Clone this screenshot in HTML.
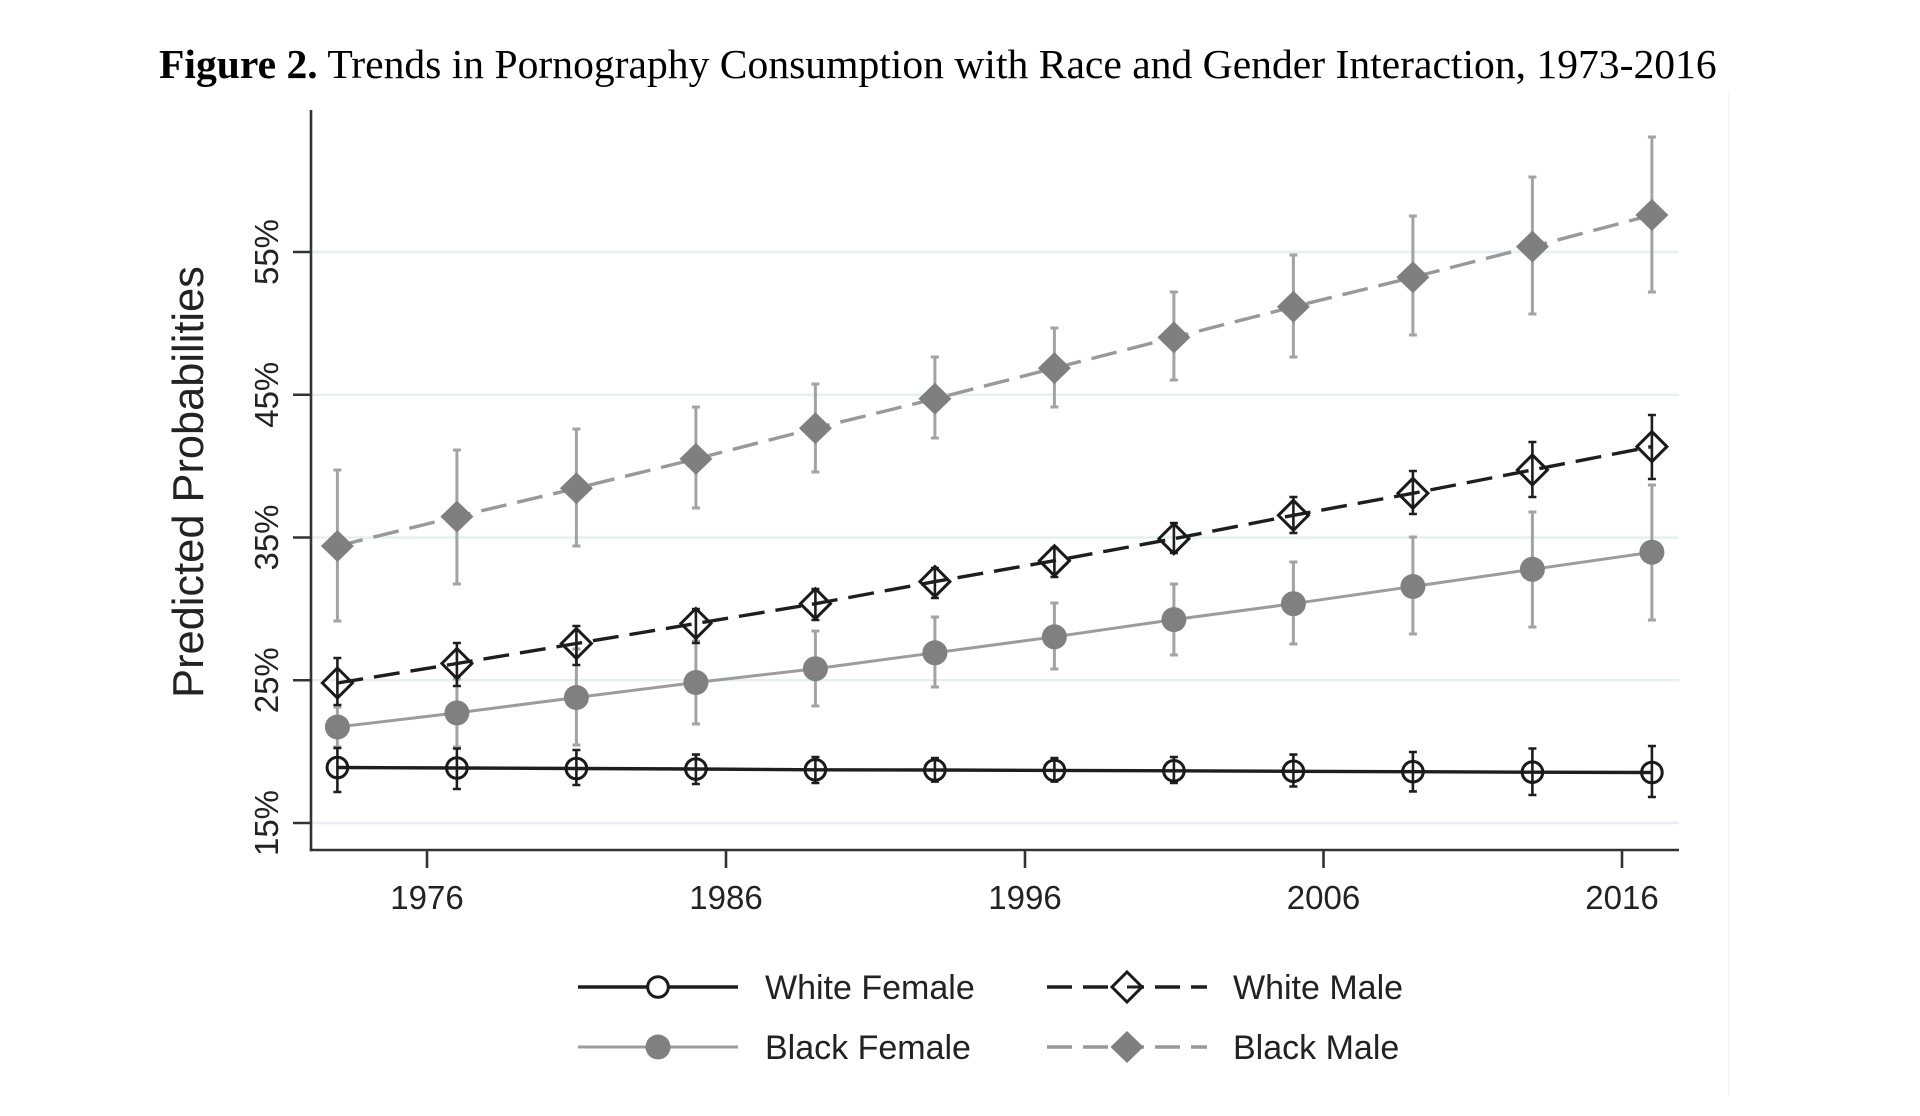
<!DOCTYPE html>
<html><head><meta charset="utf-8"><style>
html,body{margin:0;padding:0;background:#fff;}
svg{display:block;}
</style></head><body>
<svg width="1920" height="1116" viewBox="0 0 1920 1116" xmlns="http://www.w3.org/2000/svg">
<rect width="1920" height="1116" fill="#fff"/>
<!-- faint graph region border -->
<line x1="1729" y1="90" x2="1729" y2="1096" stroke="#f4f7f8" stroke-width="2"/>
<!-- title -->
<text x="159" y="78" font-family="'Liberation Serif', serif" font-size="41.6" fill="#000"><tspan font-weight="bold">Figure 2.</tspan> Trends in Pornography Consumption with Race and Gender Interaction, 1973-2016</text>

<!-- gridlines -->
<g stroke="#e6eff2" stroke-width="2.5">
<line x1="312" y1="252" x2="1679" y2="252"/>
<line x1="312" y1="394.75" x2="1679" y2="394.75"/>
<line x1="312" y1="537.5" x2="1679" y2="537.5"/>
<line x1="312" y1="680.25" x2="1679" y2="680.25"/>
<line x1="312" y1="823" x2="1679" y2="823"/>
</g>

<!-- axes -->
<g stroke="#333" stroke-width="2.6" fill="none">
<line x1="311" y1="110" x2="311" y2="851.3"/>
<line x1="309.7" y1="850" x2="1679" y2="850"/>
<line x1="293" y1="252" x2="311" y2="252"/>
<line x1="293" y1="394.75" x2="311" y2="394.75"/>
<line x1="293" y1="537.5" x2="311" y2="537.5"/>
<line x1="293" y1="680.25" x2="311" y2="680.25"/>
<line x1="293" y1="823" x2="311" y2="823"/>
<line x1="427" y1="850" x2="427" y2="868"/>
<line x1="726" y1="850" x2="726" y2="868"/>
<line x1="1025" y1="850" x2="1025" y2="868"/>
<line x1="1323.5" y1="850" x2="1323.5" y2="868"/>
<line x1="1622" y1="850" x2="1622" y2="868"/>
</g>

<!-- tick labels -->
<g font-family="'Liberation Sans', sans-serif" font-size="33" fill="#222" text-anchor="middle">
<text x="427" y="909">1976</text>
<text x="726" y="909">1986</text>
<text x="1025" y="909">1996</text>
<text x="1323.5" y="909">2006</text>
<text x="1622" y="909">2016</text>
<text transform="translate(278,252) rotate(-90)">55%</text>
<text transform="translate(278,394.75) rotate(-90)">45%</text>
<text transform="translate(278,537.5) rotate(-90)">35%</text>
<text transform="translate(278,680.25) rotate(-90)">25%</text>
<text transform="translate(278,823) rotate(-90)">15%</text>
</g>
<text transform="translate(203,482) rotate(-90)" font-family="'Liberation Sans', sans-serif" font-size="43.4" fill="#222" text-anchor="middle">Predicted Probabilities</text>

<!-- error bars: gray (black series) -->
<g stroke="#a3a3a3" stroke-width="3" fill="none">
<path d="M337.4,470V621M333.4,470h8M333.4,621h8"/>
<path d="M456.9,450V584M452.9,450h8M452.9,584h8"/>
<path d="M576.4,429V546M572.4,429h8M572.4,546h8"/>
<path d="M695.9,407V508M691.9,407h8M691.9,508h8"/>
<path d="M815.4,384V472M811.4,384h8M811.4,472h8"/>
<path d="M934.9,357V438M930.9,357h8M930.9,438h8"/>
<path d="M1054.4,328V407M1050.4,328h8M1050.4,407h8"/>
<path d="M1173.9,292V380M1169.9,292h8M1169.9,380h8"/>
<path d="M1293.4,255V357M1289.4,255h8M1289.4,357h8"/>
<path d="M1412.9,216V335M1408.9,216h8M1408.9,335h8"/>
<path d="M1532.4,177V314M1528.4,177h8M1528.4,314h8"/>
<path d="M1651.9,137V292M1647.9,137h8M1647.9,292h8"/>

<path d="M337.4,707V747M333.4,707h8M333.4,747h8"/>
<path d="M456.9,679V747M452.9,679h8M452.9,747h8"/>
<path d="M576.4,649V745M572.4,649h8M572.4,745h8"/>
<path d="M695.9,641V724M691.9,641h8M691.9,724h8"/>
<path d="M815.4,631V706M811.4,631h8M811.4,706h8"/>
<path d="M934.9,617V687M930.9,617h8M930.9,687h8"/>
<path d="M1054.4,603V669M1050.4,603h8M1050.4,669h8"/>
<path d="M1173.9,584V655M1169.9,584h8M1169.9,655h8"/>
<path d="M1293.4,562V644M1289.4,562h8M1289.4,644h8"/>
<path d="M1412.9,537V634M1408.9,537h8M1408.9,634h8"/>
<path d="M1532.4,512V627M1528.4,512h8M1528.4,627h8"/>
<path d="M1651.9,485V620M1647.9,485h8M1647.9,620h8"/>
</g>

<!-- error bars: black (white series) -->
<g stroke="#1e1e1e" stroke-width="2.6" fill="none">
<path d="M337.4,658V705M333.4,658h8M333.4,705h8"/>
<path d="M456.9,643V686M452.9,643h8M452.9,686h8"/>
<path d="M576.4,626V665M572.4,626h8M572.4,665h8"/>
<path d="M695.9,609V643M691.9,609h8M691.9,643h8"/>
<path d="M815.4,589V620M811.4,589h8M811.4,620h8"/>
<path d="M934.9,568V598M930.9,568h8M930.9,598h8"/>
<path d="M1054.4,548V577M1050.4,548h8M1050.4,577h8"/>
<path d="M1173.9,523V553M1169.9,523h8M1169.9,553h8"/>
<path d="M1293.4,497V533M1289.4,497h8M1289.4,533h8"/>
<path d="M1412.9,471V514M1408.9,471h8M1408.9,514h8"/>
<path d="M1532.4,442V497M1528.4,442h8M1528.4,497h8"/>
<path d="M1651.9,415V479M1647.9,415h8M1647.9,479h8"/>

<path d="M337.4,748V792M333.4,748h8M333.4,792h8"/>
<path d="M456.9,748.5V789M452.9,748.5h8M452.9,789h8"/>
<path d="M576.4,750V785M572.4,750h8M572.4,785h8"/>
<path d="M695.9,754.6V784M691.9,754.6h8M691.9,784h8"/>
<path d="M815.4,757V783M811.4,757h8M811.4,783h8"/>
<path d="M934.9,758V781.6M930.9,758h8M930.9,781.6h8"/>
<path d="M1054.4,758V781.6M1050.4,758h8M1050.4,781.6h8"/>
<path d="M1173.9,757V783M1169.9,757h8M1169.9,783h8"/>
<path d="M1293.4,754.6V786.5M1289.4,754.6h8M1289.4,786.5h8"/>
<path d="M1412.9,752V791.4M1408.9,752h8M1408.9,791.4h8"/>
<path d="M1532.4,748.5V795M1528.4,748.5h8M1528.4,795h8"/>
<path d="M1651.9,746V797M1647.9,746h8M1647.9,797h8"/>
</g>

<!-- series lines -->
<polyline fill="none" stroke="#999" stroke-width="3.4" stroke-dasharray="26 11" points="337.4,546 456.9,516.6 576.4,488.3 695.9,458.9 815.4,428.2 934.9,398.8 1054.4,368.1 1173.9,337.4 1293.4,306.8 1412.9,277.3 1532.4,246.6 1651.9,215"/>
<polyline fill="none" stroke="#1e1e1e" stroke-width="3.4" stroke-dasharray="26 11" points="337.4,683 456.9,663.5 576.4,643.5 695.9,623.5 815.4,603.7 934.9,581.6 1054.4,560.7 1173.9,538.7 1293.4,515.3 1412.9,493.3 1532.4,469.9 1651.9,446.6"/>
<polyline fill="none" stroke="#9c9c9c" stroke-width="3" points="337.4,727 456.9,712.9 576.4,697.5 695.9,682.5 815.4,668.7 934.9,652.8 1054.4,636.8 1173.9,619.6 1293.4,603.7 1412.9,586.5 1532.4,569.3 1651.9,552.2"/>
<polyline fill="none" stroke="#1e1e1e" stroke-width="3.4" points="337.4,767.5 456.9,768 576.4,768.5 695.9,769 815.4,769.8 934.9,770 1054.4,770.4 1173.9,770.8 1293.4,771.3 1412.9,771.7 1532.4,772.2 1651.9,772.5"/>

<!-- markers: Black Male filled diamonds -->
<g fill="#7f7f7f">
<path d="M337.4,530 l16.5,16 l-16.5,16 l-16.5,-16z"/>
<path d="M456.9,500.6 l16.5,16 l-16.5,16 l-16.5,-16z"/>
<path d="M576.4,472.3 l16.5,16 l-16.5,16 l-16.5,-16z"/>
<path d="M695.9,442.9 l16.5,16 l-16.5,16 l-16.5,-16z"/>
<path d="M815.4,412.2 l16.5,16 l-16.5,16 l-16.5,-16z"/>
<path d="M934.9,382.8 l16.5,16 l-16.5,16 l-16.5,-16z"/>
<path d="M1054.4,352.1 l16.5,16 l-16.5,16 l-16.5,-16z"/>
<path d="M1173.9,321.4 l16.5,16 l-16.5,16 l-16.5,-16z"/>
<path d="M1293.4,290.8 l16.5,16 l-16.5,16 l-16.5,-16z"/>
<path d="M1412.9,261.3 l16.5,16 l-16.5,16 l-16.5,-16z"/>
<path d="M1532.4,230.6 l16.5,16 l-16.5,16 l-16.5,-16z"/>
<path d="M1651.9,199 l16.5,16 l-16.5,16 l-16.5,-16z"/>
</g>
<!-- White Male hollow diamonds -->
<g fill="none" stroke="#1a1a1a" stroke-width="3">
<path d="M337.4,668 l15,15 l-15,15 l-15,-15z"/>
<path d="M456.9,648.5 l15,15 l-15,15 l-15,-15z"/>
<path d="M576.4,628.5 l15,15 l-15,15 l-15,-15z"/>
<path d="M695.9,608.5 l15,15 l-15,15 l-15,-15z"/>
<path d="M815.4,588.7 l15,15 l-15,15 l-15,-15z"/>
<path d="M934.9,566.6 l15,15 l-15,15 l-15,-15z"/>
<path d="M1054.4,545.7 l15,15 l-15,15 l-15,-15z"/>
<path d="M1173.9,523.7 l15,15 l-15,15 l-15,-15z"/>
<path d="M1293.4,500.3 l15,15 l-15,15 l-15,-15z"/>
<path d="M1412.9,478.3 l15,15 l-15,15 l-15,-15z"/>
<path d="M1532.4,454.9 l15,15 l-15,15 l-15,-15z"/>
<path d="M1651.9,431.6 l15,15 l-15,15 l-15,-15z"/>
</g>
<!-- Black Female filled circles -->
<g fill="#808080">
<circle cx="337.4" cy="727" r="12.5"/>
<circle cx="456.9" cy="712.9" r="12.5"/>
<circle cx="576.4" cy="697.5" r="12.5"/>
<circle cx="695.9" cy="682.5" r="12.5"/>
<circle cx="815.4" cy="668.7" r="12.5"/>
<circle cx="934.9" cy="652.8" r="12.5"/>
<circle cx="1054.4" cy="636.8" r="12.5"/>
<circle cx="1173.9" cy="619.6" r="12.5"/>
<circle cx="1293.4" cy="603.7" r="12.5"/>
<circle cx="1412.9" cy="586.5" r="12.5"/>
<circle cx="1532.4" cy="569.3" r="12.5"/>
<circle cx="1651.9" cy="552.2" r="12.5"/>
</g>
<!-- White Female hollow circles -->
<g fill="none" stroke="#1a1a1a" stroke-width="3">
<circle cx="337.4" cy="767.5" r="10.3"/>
<circle cx="456.9" cy="768" r="10.3"/>
<circle cx="576.4" cy="768.5" r="10.3"/>
<circle cx="695.9" cy="769" r="10.3"/>
<circle cx="815.4" cy="769.8" r="10.3"/>
<circle cx="934.9" cy="770" r="10.3"/>
<circle cx="1054.4" cy="770.4" r="10.3"/>
<circle cx="1173.9" cy="770.8" r="10.3"/>
<circle cx="1293.4" cy="771.3" r="10.3"/>
<circle cx="1412.9" cy="771.7" r="10.3"/>
<circle cx="1532.4" cy="772.2" r="10.3"/>
<circle cx="1651.9" cy="772.5" r="10.3"/>
</g>

<!-- legend -->
<line x1="578" y1="987" x2="738" y2="987" stroke="#1e1e1e" stroke-width="3.4"/>
<circle cx="658" cy="987" r="10.3" fill="#fff" stroke="#1a1a1a" stroke-width="3"/>
<line x1="578" y1="1047" x2="738" y2="1047" stroke="#9c9c9c" stroke-width="3"/>
<circle cx="658" cy="1047" r="12.5" fill="#808080"/>
<line x1="1047" y1="987" x2="1207" y2="987" stroke="#1e1e1e" stroke-width="3.4" stroke-dasharray="25 11"/>
<path d="M1127,972 l15,15 l-15,15 l-15,-15z" fill="#fff" stroke="#1a1a1a" stroke-width="3"/>
<line x1="1127" y1="987" x2="1142" y2="987" stroke="#1e1e1e" stroke-width="3"/>
<line x1="1047" y1="1047" x2="1207" y2="1047" stroke="#999" stroke-width="3.4" stroke-dasharray="25 11"/>
<path d="M1127,1031 l16.5,16 l-16.5,16 l-16.5,-16z" fill="#7f7f7f"/>
<g font-family="'Liberation Sans', sans-serif" font-size="34" fill="#222">
<text x="765" y="999">White Female</text>
<text x="765" y="1059">Black Female</text>
<text x="1233" y="999">White Male</text>
<text x="1233" y="1059">Black Male</text>
</g>
</svg>
</body></html>
